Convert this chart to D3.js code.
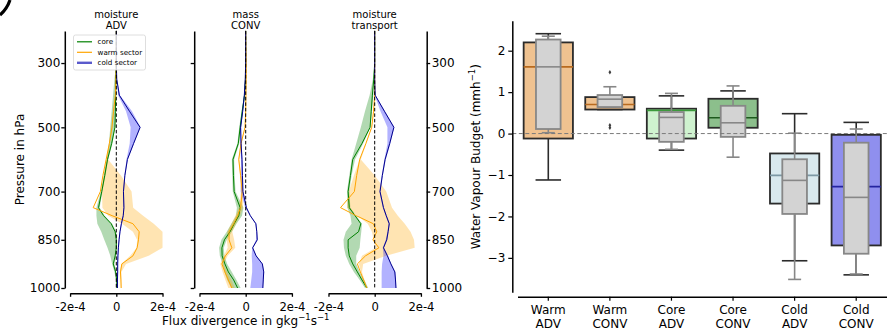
<!DOCTYPE html>
<meta charset="utf-8">
<style>
  body { margin: 0; background: #fff; }
  text { font-family: "DejaVu Sans", sans-serif; fill: #000; }
</style>
<body>
<script src="https://d3js.org/d3.v7.min.js"></script>
<script>

// pressure levels (hPa) of the profiles
var levels = [200, 300, 350, 400, 450, 500, 550, 600, 650, 700, 750, 775, 800, 825, 850, 875, 900, 925, 950, 975, 1000];
var pressureTicks = [300, 500, 700, 850, 1000];
var fluxTicks = [-2, 0, 2];             // in 1e-4 g/kg/s
var fluxTickLabels = ["-2e-4", "0", "2e-4"];

// moisture ADV (1e-4 g/kg/s)
var advCore   = [0, 0, -0.02, -0.03, -0.04, -0.06, -0.2, -0.38, -0.5, -0.63, -0.77, -0.55, -0.22, -0.05, 0, 0, -0.05, -0.13, -0.03, 0.02, 0.03];
var advCoreLo = [0, 0, -0.08, -0.14, -0.2, -0.26, -0.32, -0.42, -0.54, -0.67, -0.86, -0.86, -0.82, -0.65, -0.52, -0.38, -0.26, -0.18, -0.08, -0.02, -0.01];
var advCoreHi = [0, 0, 0, 0, -0.02, -0.04, -0.17, -0.35, -0.47, -0.6, -0.72, -0.5, -0.18, 0, 0.02, 0.02, 0, -0.08, 0, 0.03, 0.04];
var advWarm   = [0, 0, -0.02, -0.04, -0.12, -0.19, -0.3, -0.44, -0.58, -0.69, -1.0, -0.18, 0.72, 0.99, 0.96, 0.9, 0.72, 0.24, 0.18, 0.2, 0.21];
var advWarmLo = [0, 0, -0.02, -0.04, -0.12, -0.19, -0.3, -0.44, -0.55, -0.62, -0.6, -0.35, 0.25, 0.72, 0.9, 0.88, 0.6, 0.22, 0.15, 0.18, 0.2];
var advWarmHi = [0, 0, -0.02, -0.04, -0.1, -0.16, -0.28, -0.35, 0.2, 0.66, 0.73, 1.16, 1.62, 2.0, 2.0, 2.0, 1.4, 0.42, 0.22, 0.22, 0.23];
var advCold   = [0, 0, 0.02, 0.13, 0.57, 1.03, 0.75, 0.48, 0.37, 0.31, 0.33, 0.3, 0.22, 0.16, 0.12, 0.09, 0.07, 0.06, 0.06, 0.05, 0.05];
var advColdLo = [0, 0, 0.01, 0.08, 0.42, 0.62, 0.58, 0.44, 0.35, 0.29, 0.31, 0.28, 0.2, 0.14, 0.1, 0.07, 0.05, 0.04, 0.04, 0.03, 0.03];
var advColdHi = [0, 0, 0.03, 0.16, 0.68, 1.05, 0.77, 0.5, 0.39, 0.33, 0.35, 0.32, 0.24, 0.18, 0.14, 0.11, 0.09, 0.08, 0.08, 0.07, 0.07];

// mass CONV
var convCore   = [0, 0, -0.01, -0.05, -0.15, -0.24, -0.32, -0.55, -0.53, -0.5, -0.24, -0.3, -0.5, -0.68, -0.92, -1.03, -1.02, -0.9, -0.75, -0.52, -0.35];
var convCoreLo = [0, 0, -0.02, -0.07, -0.18, -0.28, -0.36, -0.6, -0.58, -0.56, -0.38, -0.42, -0.62, -0.82, -1.05, -1.15, -1.12, -1.0, -0.92, -0.8, -0.62];
var convCoreHi = [0, 0, 0, -0.03, -0.12, -0.2, -0.28, -0.5, -0.48, -0.44, -0.1, -0.16, -0.4, -0.6, -0.82, -0.95, -0.92, -0.8, -0.6, -0.4, -0.22];
var convWarm   = [0, 0.02, 0.02, 0.01, 0, -0.03, -0.2, -0.3, -0.22, -0.15, -0.22, -0.35, -0.52, -0.72, -0.72, -0.6, -0.88, -1.03, -0.9, -0.75, -0.6];
var convWarmLo = [0, 0.02, 0.02, 0.01, 0, -0.04, -0.22, -0.32, -0.25, -0.2, -0.3, -0.45, -0.62, -0.8, -0.82, -0.78, -0.95, -1.1, -1.0, -0.88, -0.75];
var convWarmHi = [0, 0.03, 0.03, 0.02, 0.01, -0.02, -0.18, -0.28, -0.2, -0.1, -0.12, -0.25, -0.42, -0.58, -0.5, -0.45, -0.78, -0.95, -0.8, -0.62, -0.48];
var convCold   = [0, 0, -0.02, -0.06, -0.13, -0.22, -0.2, -0.16, -0.14, -0.12, 0.03, 0.2, 0.44, 0.48, 0.5, 0.3, 0.45, 0.72, 0.78, 0.76, 0.74];
var convColdLo = [0, 0, -0.03, -0.07, -0.15, -0.24, -0.24, -0.2, -0.2, -0.22, -0.02, 0.18, 0.42, 0.46, 0.45, 0.28, 0.26, 0.28, 0.28, 0.24, 0.2];
var convColdHi = [0, 0, -0.01, -0.05, -0.11, -0.2, -0.18, -0.14, -0.12, -0.1, 0.05, 0.22, 0.46, 0.5, 0.52, 0.32, 0.47, 0.74, 0.8, 0.78, 0.76];

// moisture transport
var transCore   = [0, 0, -0.04, -0.1, -0.15, -0.2, -0.55, -0.95, -1.05, -1.15, -1.1, -0.85, -0.6, -0.7, -1.15, -1.15, -1.1, -0.95, -0.75, -0.55, -0.34];
var transCoreLo = [0, 0, -0.08, -0.22, -0.42, -0.6, -0.8, -1.0, -1.1, -1.2, -1.18, -1.05, -1.0, -1.25, -1.35, -1.33, -1.25, -1.1, -0.9, -0.65, -0.42];
var transCoreHi = [0, 0, -0.03, -0.06, -0.12, -0.18, -0.5, -0.85, -1.0, -1.1, -1.05, -0.8, -0.55, -0.58, -0.62, -0.65, -0.8, -0.8, -0.65, -0.45, -0.28];
var transWarm   = [0, 0, 0, 0, -0.05, -0.13, -0.38, -0.65, -0.78, -0.88, -1.48, -0.8, -0.06, 0.09, -0.08, 0.18, -0.4, -0.75, -0.62, -0.48, -0.34];
var transWarmLo = [0, 0, 0, 0, -0.05, -0.13, -0.38, -0.65, -0.9, -1.12, -1.2, -0.75, -0.3, -0.12, -0.05, 0.05, -0.55, -0.68, -0.6, -0.46, -0.33];
var transWarmHi = [0, 0, 0, 0, -0.04, -0.12, -0.36, -0.6, 0.0, 0.5, 0.75, 1.0, 1.3, 1.55, 1.7, 1.73, 0.5, -0.5, -0.55, -0.44, -0.32];
var transCold   = [0, 0, 0, 0.02, 0.42, 0.83, 0.65, 0.45, 0.33, 0.23, 0.38, 0.5, 0.63, 0.58, 0.52, 0.38, 0.55, 0.7, 0.87, 0.9, 0.92];
var transColdLo = [0, 0, 0, 0, 0.25, 0.55, 0.55, 0.42, 0.3, 0.2, 0.35, 0.47, 0.6, 0.55, 0.48, 0.35, 0.38, 0.32, 0.3, 0.3, 0.3];
var transColdHi = [0, 0, 0, 0.03, 0.45, 0.85, 0.68, 0.48, 0.35, 0.25, 0.4, 0.52, 0.65, 0.6, 0.55, 0.4, 0.58, 0.72, 0.9, 0.92, 0.94];

// water vapour budget boxes (mm/h)
var boxCats    = ["Warm ADV", "Warm CONV", "Core ADV", "Core CONV", "Cold ADV", "Cold CONV"];
var outerLow   = [-1.12, 0.58, -0.4, 0.14, -3.07, -3.41];
var outerQ1    = [-0.12, 0.58, -0.12, 0.14, -1.69, -2.7];
var outerMed   = [1.61, 0.7, 0.56, 0.38, -1.01, -1.28];
var outerQ3    = [2.2, 0.88, 0.6, 0.84, -0.48, -0.03];
var outerHigh  = [2.41, 0.88, 0.91, 1.03, 0.48, 0.27];
var innerLow   = [0.02, 0.64, -0.38, -0.57, -3.52, -3.39];
var innerQ1    = [0.11, 0.64, -0.2, -0.08, -1.94, -2.9];
var innerMed   = [1.61, 0.83, 0.39, 0.26, -1.13, -1.54];
var innerQ3    = [2.27, 0.93, 0.52, 0.67, -0.62, -0.22];
var innerHigh  = [2.35, 1.13, 0.97, 1.15, 0.01, 0.11];
var innerFliers = [[], [1.48, 0.2, 0.14], [], [], [], []];
var budgetTicks = [-3, -2, -1, 0, 1, 2];

// styles
var seriesColor = {core: "green", warm: "orange", cold: "darkblue"};
var bandColor = {core: "green", warm: "orange", cold: "blue"};
var boxColors = ["#efc290", "#efc290", "#cff2cf", "#8cbf8c", "#d9e9ee", "#8f8fee"];
var medColors = ["#b86a1e", "#b86a1e", "#3c9a3c", "#1d5a1d", "#7d98a4", "#2424a0"];

var width = 887, height = 329;

var svg = d3.select("body").append("svg")
    .attr("width", width)
    .attr("height", height);

// cut off panel letter in the corner
svg.append("path")
    .attr("d", "M 10 0 Q 7 9 0 15")
    .style("fill", "none")
    .style("stroke", "#000")
    .style("stroke-width", 3.2);

// ---------- profile panels ----------
var yP = d3.scaleLinear().domain([200, 1000]).range([30.9, 288]);

var panels = [
  {title: ["moisture", "ADV"], zero: 116.3,
   core: [advCore, advCoreLo, advCoreHi], warm: [advWarm, advWarmLo, advWarmHi], cold: [advCold, advColdLo, advColdHi]},
  {title: ["mass", "CONV"], zero: 245.7,
   core: [convCore, convCoreLo, convCoreHi], warm: [convWarm, convWarmLo, convWarmHi], cold: [convCold, convColdLo, convColdHi]},
  {title: ["moisture", "transport"], zero: 374.7,
   core: [transCore, transCoreLo, transCoreHi], warm: [transWarm, transWarmLo, transWarmHi], cold: [transCold, transColdLo, transColdHi]}
];

panels.forEach(function(pn, k) {
  var x = d3.scaleLinear().domain([-2.25, 2.25]).range([pn.zero - 52, pn.zero + 52]);
  var g = svg.append("g");

  ["core", "warm", "cold"].forEach(function(s) {
    var rows = levels.map(function(p, i) {
      return {p: p, v: pn[s][0][i], lo: pn[s][1][i], hi: pn[s][2][i]};
    });
    var area = d3.area()
        .x0(function(d) { return x(d.lo); })
        .x1(function(d) { return x(d.hi); })
        .y(function(d) { return yP(d.p); });
    g.append("path")
        .datum(rows)
        .attr("d", area)
        .style("fill", bandColor[s])
        .style("fill-opacity", 0.3)
        .style("stroke", "none");
  });

  ["core", "warm", "cold"].forEach(function(s) {
    var rows = levels.map(function(p, i) { return {p: p, v: pn[s][0][i]}; });
    var line = d3.line()
        .x(function(d) { return x(d.v); })
        .y(function(d) { return yP(d.p); });
    g.append("path")
        .datum(rows)
        .attr("d", line)
        .style("fill", "none")
        .style("stroke", seriesColor[s])
        .style("stroke-width", 1);
  });

  // zero line
  g.append("line")
      .attr("x1", x(0)).attr("x2", x(0))
      .attr("y1", yP(200)).attr("y2", yP(1000))
      .style("stroke", "#000")
      .style("stroke-width", 1)
      .style("stroke-dasharray", "3.5,2");

  // x axis, spine trimmed to the ticks
  var xa = x.copy().domain([-2, 2]).range([x(-2), x(2)]);
  var ax = g.append("g")
      .attr("transform", "translate(0,293.3)")
      .call(d3.axisBottom(xa).tickValues(fluxTicks).tickSize(3.5).tickSizeOuter(0)
        .tickFormat(function(d, i) { return fluxTickLabels[i]; }));
  ax.selectAll("text").attr("font-size", 11.6).attr("font-family", "DejaVu Sans").attr("dy", "0.95em");

  // y spines
  if (k < 2) {
    var ay = g.append("g")
        .attr("transform", "translate(" + (pn.zero - 51.5) + ",0)")
        .call(d3.axisLeft(yP).tickValues(pressureTicks).tickSize(3.5).tickSizeOuter(0)
          .tickFormat(k === 0 ? d3.format("d") : function() { return ""; }));
    ay.selectAll("text").attr("font-size", 12).attr("font-family", "DejaVu Sans").attr("x", -4.5);
  } else {
    var ar = g.append("g")
        .attr("transform", "translate(" + (pn.zero + 52) + ",0)")
        .call(d3.axisRight(yP).tickValues(pressureTicks).tickSize(3.5).tickSizeOuter(0)
          .tickFormat(d3.format("d")));
    ar.selectAll("text").attr("font-size", 12).attr("font-family", "DejaVu Sans").attr("x", 5);
  }
  g.selectAll(".domain, .tick line").style("stroke-width", 1.3);

  // title
  var t = g.append("text")
      .attr("text-anchor", "middle")
      .attr("font-size", 10);
  t.append("tspan").attr("x", pn.zero).attr("y", 17.5).text(pn.title[0]);
  t.append("tspan").attr("x", pn.zero).attr("y", 28.5).text(pn.title[1]);
});

// legend
var leg = svg.append("g").attr("transform", "translate(73.5,35)");
leg.append("rect")
    .attr("width", 72).attr("height", 35).attr("rx", 2)
    .style("fill", "#fff").style("fill-opacity", 0.8)
    .style("stroke", "#d6d6d6").style("stroke-width", 0.8);
var legItems = [["core", "core", 1.2, "green"], ["warm", "warm sector", 1.2, "orange"], ["cold", "cold sector", 2.4, "#5a5acc"]];
legItems.forEach(function(it, i) {
  var yy = 6.8 + i * 10.5;
  leg.append("line")
      .attr("x1", 3.5).attr("x2", 18.5).attr("y1", yy).attr("y2", yy)
      .style("stroke", it[3]).style("stroke-width", it[2]);
  leg.append("text")
      .attr("x", 24).attr("y", yy + 2.5)
      .attr("font-size", 7.2)
      .text(it[1]);
});

// axis labels of the profile panels
svg.append("text")
    .attr("transform", "translate(24,159.5) rotate(-90)")
    .attr("text-anchor", "middle")
    .attr("font-size", 12)
    .text("Pressure in hPa");

var xl = svg.append("text")
    .attr("x", 245.7).attr("y", 324.5)
    .attr("text-anchor", "middle")
    .attr("font-size", 12);
xl.append("tspan").text("Flux divergence in gkg");
xl.append("tspan").attr("font-size", 8.5).attr("dy", -5).text("\u22121");
xl.append("tspan").attr("dy", 5).text("s");
xl.append("tspan").attr("font-size", 8.5).attr("dy", -5).text("\u22121");

// ---------- box plot ----------
var xb = d3.scaleBand().domain(boxCats).range([517.5, 887]).padding(0);
var yb = d3.scaleLinear().domain([-1, 2]).range([175, 50.7]);
var bw = xb.bandwidth();

var bg = svg.append("g");

function drawBox(i, low, q1, med, q3, high, boxW, capW, fill, edge, medCol) {
  var cx = xb(boxCats[i]) + bw / 2;
  bg.append("line")
      .attr("x1", cx).attr("x2", cx).attr("y1", yb(low)).attr("y2", yb(q1))
      .style("stroke", edge).style("stroke-width", 1.6);
  bg.append("line")
      .attr("x1", cx).attr("x2", cx).attr("y1", yb(q3)).attr("y2", yb(high))
      .style("stroke", edge).style("stroke-width", 1.6);
  [low, high].forEach(function(v) {
    bg.append("line")
        .attr("x1", cx - capW / 2).attr("x2", cx + capW / 2)
        .attr("y1", yb(v)).attr("y2", yb(v))
        .style("stroke", edge).style("stroke-width", 1.6);
  });
  bg.append("rect")
      .attr("x", cx - boxW / 2).attr("width", boxW)
      .attr("y", yb(q3)).attr("height", yb(q1) - yb(q3))
      .style("fill", fill).style("stroke", edge).style("stroke-width", 1.8);
  bg.append("line")
      .attr("x1", cx - boxW / 2).attr("x2", cx + boxW / 2)
      .attr("y1", yb(med)).attr("y2", yb(med))
      .style("stroke", medCol).style("stroke-width", 1.6);
}

boxCats.forEach(function(c, i) {
  drawBox(i, outerLow[i], outerQ1[i], outerMed[i], outerQ3[i], outerHigh[i], bw * 0.8, 25.5, boxColors[i], "#2b2b2b", medColors[i]);
});
boxCats.forEach(function(c, i) {
  drawBox(i, innerLow[i], innerQ1[i], innerMed[i], innerQ3[i], innerHigh[i], bw * 0.4, 13, "#d3d3d3", "#878787", "#878787");
  var cx = xb(c) + bw / 2;
  innerFliers[i].forEach(function(v) {
    bg.append("path")
        .attr("transform", "translate(" + cx + "," + yb(v) + ")")
        .attr("d", "M0,-2.2L1.4,0L0,2.2L-1.4,0Z")
        .style("fill", "#3d3d3d");
  });
});

// zero reference line
bg.append("line")
    .attr("x1", 512.3).attr("x2", 887)
    .attr("y1", yb(0)).attr("y2", yb(0))
    .style("stroke", "#7a7a7a").style("stroke-width", 1)
    .style("stroke-dasharray", "4,2.5");

// axes
var ybSpine = yb.copy().domain([-3.83, 2.72]).range([yb(-3.83), yb(2.72)]);
var byAx = svg.append("g")
    .attr("transform", "translate(512.3,0)")
    .call(d3.axisLeft(ybSpine).tickValues(budgetTicks).tickSize(4).tickSizeOuter(0).tickFormat(d3.format("d")));
byAx.selectAll("text").attr("font-size", 12).attr("font-family", "DejaVu Sans").attr("x", -7);

var bxAx = svg.append("g")
    .attr("transform", "translate(0,296.7)")
    .call(d3.axisBottom(xb).tickSize(4).tickSizeOuter(0));
bxAx.selectAll("text").each(function(d) {
  var parts = d.split(" ");
  var t = d3.select(this).text(null)
      .attr("font-size", 12).attr("font-family", "DejaVu Sans").attr("y", 0).attr("dy", null);
  t.append("tspan").attr("x", 0).attr("y", 17.6).text(parts[0]);
  t.append("tspan").attr("x", 0).attr("y", 31.6).text(parts[1]);
});
svg.selectAll(".domain").style("stroke-width", 1.5);
byAx.selectAll(".tick line").style("stroke-width", 1.2);
bxAx.selectAll(".tick line").style("stroke-width", 1.2);

var yl = svg.append("text")
    .attr("transform", "translate(480,156.7) rotate(-90)")
    .attr("text-anchor", "middle")
    .attr("font-size", 12);
yl.append("tspan").text("Water Vapour Budget (mmh");
yl.append("tspan").attr("font-size", 8.5).attr("dy", -5).text("\u22121");
yl.append("tspan").attr("dy", 5).text(")");

</script>
</body>
</html>
